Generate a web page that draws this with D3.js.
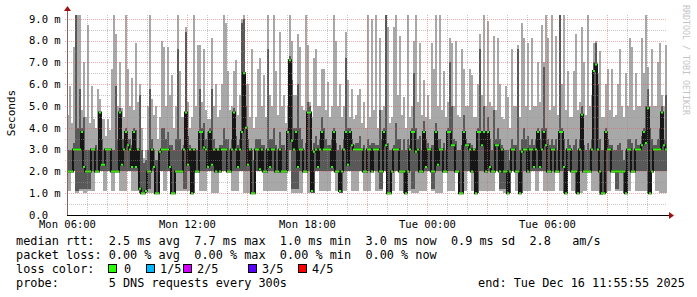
<!DOCTYPE html>
<html>
<head>
<meta charset="utf-8">
<script src="https://cdn.jsdelivr.net/npm/d3@7"></script>
<style>
  html, body { margin: 0; padding: 0; background: #fff; }
  svg { display: block; }
  text { font-family: "DejaVu Sans Mono", monospace; white-space: pre; }
</style>
</head>
<body>
<svg id="chart" width="697" height="297"></svg>
<script>
// time window of the graph, one sample every 6 minutes
var startTime = new Date(2025, 11, 15, 6, 0);
var endTime = new Date(2025, 11, 16, 12, 0);
var stepMinutes = 6;

// 5 pings per sample, sorted: min, 2nd, median, 4th, max (ms)
var pingMax = [
  4.6,5.9, 4.2,7.7, 9.2,9.2, 9.2,4.8, 7.0,4.5, 8.7,4.2, 5.9,4.4, 4.0,5.8, 5.3,4.4, 4.4,3.6,
  4.4,3.9, 6.7,9.2, 8.3,5.0, 7.0,4.9, 4.5,9.2, 6.7,5.0, 6.3,4.8, 7.9,5.2, 6.0,4.0, 2.6,3.0,
  5.0,9.2, 5.3,4.6, 5.0,3.5, 4.5,8.0, 7.7,5.0, 7.7,5.5, 6.4,4.0, 5.0,9.2, 6.6,4.5, 4.5,8.6,
  5.2,4.0, 4.5,9.2, 5.0,7.8, 7.8,5.2, 7.6,4.8, 4.4,4.4, 8.1,5.0, 6.0,4.5, 4.8,6.0, 9.2,8.8,
  6.6,4.8, 5.0,6.6, 7.1,4.6, 5.5,9.0, 9.2,6.0, 6.0,4.5, 7.6,4.0, 4.5,6.7, 7.2,5.0, 6.4,4.5,
  9.2,5.5, 5.0,9.2, 6.6,4.6, 8.4,5.0, 5.5,4.2, 5.0,9.2, 8.0,5.5, 5.5,8.3, 7.7,5.0, 4.8,9.2,
  7.8,5.2, 4.5,7.2, 7.6,5.0, 5.0,6.7, 6.7,4.8, 6.1,4.5, 5.0,9.2, 8.0,5.0, 6.0,4.5, 5.0,8.4,
  6.2,4.5, 5.8,4.4, 4.6,5.5, 5.8,4.2, 5.2,4.0, 9.2,4.5, 9.0,4.8, 9.2,4.0, 8.1,4.8, 5.0,9.2,
  8.6,4.2, 4.5,8.6, 9.2,5.5, 8.2,4.6, 5.4,4.0, 9.2,4.5, 5.0,8.0, 9.2,5.2, 7.9,4.6, 6.2,4.5,
  5.5,4.4, 7.9,6.7, 9.2,5.0, 9.2,4.8, 6.6,4.5, 5.2,8.1, 7.9,5.0, 8.0,4.6, 4.5,7.6, 6.7,5.0,
  5.0,6.7, 6.4,4.5, 4.5,6.0, 8.3,5.5, 9.2,5.0, 8.9,5.2, 5.0,8.2, 4.8,8.1, 6.0,4.5, 4.4,5.9,
  5.4,4.0, 7.6,5.0, 5.0,7.8, 4.5,8.8, 8.1,5.0, 7.9,4.8, 8.1,5.0, 5.0,7.0, 5.2,8.7, 7.0,9.2,
  8.1,4.8, 9.2,5.0, 8.2,4.6, 9.2,6.0, 9.2,4.8, 6.6,4.5, 4.5,6.6, 8.3,4.8, 5.2,8.6, 7.0,4.6,
  9.2,5.0, 5.5,7.9, 8.0,6.5, 7.5,4.5, 4.5,6.0, 6.7,4.8, 6.7,4.5, 4.6,6.0, 7.6,5.0, 4.5,6.5,
  5.0,8.1, 7.7,4.8, 6.5,5.0, 5.0,8.1, 6.5,9.2, 6.8,5.0, 7.6,5.0, 5.0,7.0, 7.9,5.5, 5.0,7.8
];
var pingHigh = [
  3.0,3.0, 3.0,3.3, 9.2,4.0, 5.8,4.0, 4.5,3.0, 3.0,3.0, 3.0,3.0, 3.2,3.0, 4.7,3.5, 3.0,3.0,
  3.0,3.0, 3.0,3.0, 5.9,3.5, 4.9,3.5, 3.5,4.0, 3.5,3.5, 3.2,4.0, 3.9,3.0, 5.5,3.0, 2.4,2.5,
  3.0,5.8, 3.5,3.0, 2.5,2.5, 3.0,4.0, 4.0,3.5, 3.8,3.2, 3.2,3.0, 3.5,7.6, 3.5,3.0, 3.2,8.4,
  3.6,3.2, 3.0,3.0, 3.0,3.0, 5.8,4.0, 4.2,3.5, 3.8,4.0, 5.8,3.5, 3.0,3.0, 3.2,3.2, 4.0,3.5,
  3.5,3.0, 3.5,4.9, 3.6,3.2, 3.5,8.8, 9.0,5.0, 3.5,3.0, 3.0,2.5, 3.5,3.5, 3.5,3.2, 3.2,3.0,
  7.6,3.5, 3.5,4.0, 3.2,3.0, 3.8,3.2, 3.2,3.0, 4.0,7.3, 6.2,4.0, 4.0,6.0, 4.0,3.5, 3.0,3.3,
  5.2,5.0, 3.0,3.3, 3.6,3.2, 3.5,4.5, 4.0,3.5, 3.2,3.2, 3.5,4.0, 3.3,3.0, 3.2,3.0, 3.5,7.2,
  4.0,4.0, 3.5,3.2, 3.3,3.3, 3.6,3.0, 3.2,3.0, 3.5,3.2, 3.3,3.3, 3.2,3.2, 4.8,3.5, 4.0,9.2,
  3.3,3.0, 3.0,3.2, 4.2,3.5, 3.5,3.0, 3.5,3.0, 3.5,3.2, 4.0,6.5, 4.0,3.5, 3.6,3.0, 4.3,3.5,
  3.3,3.0, 3.2,3.2, 4.2,3.5, 3.5,3.0, 3.3,3.0, 4.0,7.0, 5.0,3.5, 3.4,3.0, 3.0,3.2, 4.6,3.5,
  3.3,3.3, 3.2,3.0, 3.0,4.0, 7.6,3.5, 5.0,3.5, 4.5,3.5, 3.0,4.8, 3.5,4.0, 3.5,3.2, 3.0,3.0,
  3.0,2.5, 3.5,3.2, 3.2,7.6, 3.0,3.5, 4.0,3.5, 3.6,3.2, 3.5,3.2, 3.5,4.0, 3.5,4.0, 6.8,4.0,
  3.5,3.2, 3.5,3.2, 3.5,3.0, 9.2,4.0, 3.5,3.0, 3.5,3.2, 3.0,3.2, 3.5,3.0, 3.5,5.0, 3.2,3.0,
  3.3,3.0, 3.5,7.0, 7.9,6.0, 3.5,3.0, 3.0,4.0, 3.5,3.2, 3.2,3.0, 3.0,3.2, 3.3,3.0, 2.5,3.0,
  3.5,3.5, 3.3,3.0, 3.5,3.2, 3.2,3.6, 4.0,5.0, 5.8,4.0, 3.5,3.2, 3.2,3.5, 4.0,5.0, 3.5,5.5
];
var pingMedian = [
  2.0,2.0, 2.0,3.0, 3.0,3.0, 3.0,3.8, 2.2,2.0, 2.0,2.0, 3.0,3.0, 2.0,2.0, 4.7,2.3, 2.3,3.0,
  3.0,3.0, 2.0,2.0, 2.0,2.0, 4.7,2.3, 3.0,3.8, 3.2,3.0, 2.2,3.8, 2.2,3.0, 1.2,1.0, 1.0,1.1,
  2.0,2.0, 3.0,2.2, 1.0,1.0, 2.9,3.0, 3.0,3.0, 3.0,2.2, 1.0,1.0, 2.0,2.0, 2.0,2.0, 3.0,4.7,
  2.3,3.0, 1.0,3.0, 2.0,2.0, 3.8,3.8, 3.1,3.0, 2.2,3.8, 2.3,3.0, 2.0,3.0, 2.0,3.0, 3.0,3.0,
  2.0,2.0, 3.0,4.7, 3.0,2.2, 3.0,3.8, 6.5,4.0, 2.3,3.0, 1.0,1.0, 3.0,3.0, 2.1,3.0, 2.0,2.0,
  3.0,2.2, 3.0,3.0, 2.0,2.0, 3.0,2.0, 2.0,2.0, 3.8,7.1, 3.4,3.0, 3.8,2.2, 3.0,3.0, 2.0,2.0,
  4.7,4.7, 1.1,2.9, 3.0,2.2, 3.0,3.8, 3.0,3.0, 3.0,3.0, 2.2,3.8, 2.0,2.0, 1.1,2.0, 3.0,3.8,
  2.3,3.8, 3.2,3.0, 3.0,3.0, 3.0,3.0, 2.0,2.0, 3.0,3.0, 2.0,3.0, 3.0,3.0, 2.0,2.0, 3.8,3.2,
  1.0,1.0, 2.0,3.0, 3.0,3.0, 2.0,2.0, 2.0,1.0, 2.0,3.0, 3.8,3.8, 2.9,3.0, 2.0,2.0, 3.8,2.2,
  3.0,3.0, 2.0,2.0, 3.8,2.3, 3.0,3.0, 2.0,2.0, 3.8,3.8, 3.2,3.2, 2.0,2.0, 1.0,1.0, 3.8,3.2,
  3.2,3.0, 2.0,3.0, 1.0,3.8, 3.8,3.2, 3.8,2.0, 3.8,2.2, 2.0,2.0, 3.2,3.2, 2.0,3.0, 2.0,2.0,
  1.0,2.0, 3.0,3.0, 2.0,2.0, 1.0,2.9, 3.0,3.0, 2.0,3.0, 3.0,2.2, 3.0,3.8, 2.2,3.0, 3.8,3.2,
  2.0,2.0, 3.0,3.0, 2.0,2.0, 3.8,3.8, 2.2,1.0, 3.0,3.0, 2.0,2.0, 2.0,1.0, 3.0,4.6, 2.0,2.0,
  2.0,2.0, 3.0,6.6, 6.9,3.0, 2.0,1.0, 1.0,3.8, 3.0,3.0, 2.0,2.0, 2.0,2.0, 2.0,2.0, 2.0,1.0,
  3.0,3.0, 2.0,2.0, 3.0,3.0, 3.0,3.2, 3.8,3.3, 4.9,1.0, 2.0,3.0, 3.0,3.0, 3.0,4.7, 3.2,3.0
];
var pingLow = [
  2.0,2.0, 2.0,2.0, 1.1,1.1, 1.2,1.2, 1.2,1.2, 1.2,1.2, 2.0,2.0, 2.0,2.0, 2.0,2.0, 2.0,2.0,
  2.0,2.0, 2.0,2.0, 2.0,2.0, 2.0,2.0, 2.0,2.0, 2.0,2.0, 2.0,2.0, 2.0,2.0, 1.0,1.0, 1.0,1.0,
  1.2,1.2, 2.0,2.0, 1.0,1.0, 2.0,2.0, 2.0,2.0, 2.0,2.0, 1.0,1.0, 2.0,2.0, 2.0,2.0, 1.2,1.2,
  2.0,2.0, 1.0,1.0, 2.0,2.0, 2.0,2.0, 2.0,2.0, 2.0,2.0, 2.0,2.0, 2.0,2.0, 2.0,2.0, 2.0,2.0,
  2.0,2.0, 2.0,2.0, 2.0,2.0, 2.0,2.0, 2.0,2.0, 2.0,2.0, 1.0,1.0, 2.0,2.0, 2.0,2.0, 2.0,2.0,
  2.0,2.0, 2.0,2.0, 2.0,2.0, 2.0,2.0, 2.0,2.0, 2.0,3.0, 1.2,1.2, 1.2,1.2, 2.0,2.0, 2.0,2.0,
  2.0,2.0, 1.0,1.0, 2.0,2.0, 2.0,2.0, 2.0,2.0, 2.0,2.0, 2.0,2.0, 2.0,2.0, 1.0,1.0, 2.0,2.0,
  2.0,2.0, 2.0,2.0, 2.0,2.0, 2.0,2.0, 2.0,2.0, 2.0,2.0, 2.0,2.0, 2.0,2.0, 1.2,1.2, 2.0,2.0,
  1.0,1.0, 2.0,2.0, 2.0,2.0, 2.0,2.0, 1.0,1.0, 2.0,2.0, 1.2,1.2, 2.0,2.0, 2.0,2.0, 2.0,2.0,
  2.0,2.0, 1.2,1.2, 2.0,2.0, 2.0,2.0, 2.0,2.0, 2.0,2.0, 2.0,2.0, 2.0,2.0, 1.0,1.0, 2.0,2.0,
  2.0,2.0, 2.0,2.0, 1.0,1.0, 2.0,2.0, 2.0,2.0, 2.0,2.0, 2.0,2.0, 2.0,2.0, 1.2,1.2, 1.2,1.2,
  1.0,1.0, 2.0,2.0, 2.0,2.0, 1.0,1.0, 2.0,2.0, 2.0,2.0, 2.0,2.0, 2.0,2.0, 2.0,2.0, 2.0,2.0,
  2.0,2.0, 2.0,2.0, 2.0,2.0, 2.0,2.0, 1.0,1.0, 2.0,2.0, 2.0,2.0, 1.0,1.0, 2.0,2.0, 2.0,2.0,
  2.0,2.0, 2.0,2.0, 2.0,2.0, 1.0,1.0, 1.0,1.0, 2.0,2.0, 2.0,2.0, 1.2,1.2, 2.0,2.0, 1.0,1.0,
  2.0,2.0, 2.0,2.0, 2.0,2.0, 2.0,2.0, 2.0,2.0, 1.0,1.0, 2.0,2.0, 2.0,2.0, 2.0,2.0, 2.0,2.0
];
var pingMin = [
  1.1,1.1, 2.0,2.0, 1.0,1.0, 1.1,1.1, 1.0,1.0, 1.1,1.1, 1.1,1.1, 2.0,2.0, 2.0,2.0, 1.1,1.1,
  2.0,2.0, 1.1,1.1, 2.0,2.0, 1.1,1.1, 1.1,1.1, 2.0,2.0, 1.1,1.1, 1.1,1.1, 1.0,1.0, 1.0,1.0,
  1.0,1.0, 1.0,1.0, 1.0,1.0, 2.0,2.0, 1.1,1.1, 2.0,2.0, 1.0,1.0, 1.1,1.1, 1.1,1.1, 1.1,1.1,
  1.1,1.1, 1.0,1.0, 2.0,2.0, 1.1,1.1, 1.1,1.1, 2.0,2.0, 1.0,1.0, 1.0,1.0, 2.0,2.0, 2.0,2.0,
  2.0,2.0, 1.1,1.1, 1.1,1.1, 2.0,2.0, 1.0,1.0, 1.0,1.0, 1.0,1.0, 2.0,2.0, 2.0,2.0, 1.1,1.1,
  1.1,1.1, 1.1,1.1, 1.1,1.1, 1.1,1.1, 1.1,1.1, 2.0,2.0, 1.0,1.0, 1.0,1.0, 1.0,1.0, 2.0,2.0,
  1.0,1.0, 1.0,1.0, 2.0,2.0, 1.1,1.1, 1.1,1.1, 1.1,1.1, 2.0,2.0, 1.1,1.1, 1.0,1.0, 1.1,1.1,
  2.0,2.0, 1.1,1.1, 1.1,1.1, 2.0,2.0, 1.1,1.1, 1.1,1.1, 2.0,2.0, 1.1,1.1, 1.1,1.1, 2.0,2.0,
  1.0,1.0, 1.1,1.1, 2.0,2.0, 1.1,1.1, 1.0,1.0, 1.1,1.1, 1.0,1.0, 1.0,1.0, 1.1,1.1, 1.1,1.1,
  2.0,2.0, 1.1,1.1, 1.0,1.0, 1.0,1.0, 2.0,2.0, 1.1,1.1, 1.1,1.1, 2.0,2.0, 1.0,1.0, 1.1,1.1,
  2.0,2.0, 1.1,1.1, 1.0,1.0, 1.1,1.1, 1.1,1.1, 1.1,1.1, 1.1,1.1, 2.0,2.0, 1.1,1.1, 1.0,1.0,
  1.0,1.0, 2.0,2.0, 1.1,1.1, 1.0,1.0, 1.1,1.1, 1.1,1.1, 2.0,2.0, 1.1,1.1, 2.0,2.0, 1.1,1.1,
  1.1,1.1, 1.1,1.1, 2.0,2.0, 1.1,1.1, 1.0,1.0, 2.0,2.0, 1.1,1.1, 1.0,1.0, 1.0,1.0, 1.1,1.1,
  2.0,2.0, 1.1,1.1, 1.1,1.1, 0.9,0.9, 1.0,1.0, 1.1,1.1, 2.0,2.0, 1.1,1.1, 1.1,1.1, 1.0,1.0,
  1.1,1.1, 2.0,2.0, 1.1,1.1, 1.1,1.1, 1.1,1.1, 1.0,1.0, 2.0,2.0, 1.1,1.1, 1.0,1.0, 1.0,1.0
];

var yTicks = [0, 1, 2, 3, 4, 5, 6, 7, 8, 9];
var yLabel = 'Seconds';
var watermark = 'RRDTOOL / TOBI OETIKER';

// legend rows
var rttStats = ['2.5 ms avg', '7.7 ms max', '1.0 ms min', '3.0 ms now', '0.9 ms sd', '2.8   am/s'];
var lossStats = ['0.00 % avg', '0.00 % max', '0.00 % min', '0.00 % now'];
var lossLabels = ['0', '1/5', '2/5', '3/5', '4/5'];
var lossColors = ['#26ff00', '#00b8ff', '#d400ff', '#5a00ff', '#ff0000'];
var probeText = '5 DNS requests every 300s';
var endText = 'end: Tue Dec 16 11:55:55 2025';

var svg = d3.select('#chart');
// note: "top" would clash with window.top
var plotLeft = 67, plotRight = 667, plotTop = 15, plotBottom = 215;

var x = d3.scaleTime().domain([startTime, endTime]).range([plotLeft, plotRight]);
var y = d3.scaleLinear().domain([0, 9.17]).range([plotBottom, plotTop]);

var samples = pingMedian.map(function(m, i) {
  var t0 = d3.timeMinute.offset(startTime, i * stepMinutes);
  return {
    t0: t0,
    t1: d3.timeMinute.offset(t0, stepMinutes),
    max: pingMax[i], high: pingHigh[i], med: m, low: pingLow[i], min: pingMin[i]
  };
});

svg.append('defs').append('clipPath').attr('id', 'plot-clip')
  .append('rect').attr('x', plotLeft).attr('y', plotTop)
  .attr('width', plotRight - plotLeft).attr('height', plotBottom - plotTop);

var plot = svg.append('g').attr('clip-path', 'url(#plot-clip)');

// smoke: outer pings light, inner pings dark
plot.selectAll('.smoke-outer').data(samples).enter().append('rect')
  .attr('class', 'smoke-outer')
  .attr('x', d => x(d.t0))
  .attr('width', d => x(d.t1) - x(d.t0))
  .attr('y', d => y(d.max))
  .attr('height', d => y(d.min) - y(d.max))
  .attr('fill', '#a8a8a8')
  .attr('shape-rendering', 'crispEdges');

plot.selectAll('.smoke-inner').data(samples).enter().append('rect')
  .attr('class', 'smoke-inner')
  .attr('x', d => x(d.t0))
  .attr('width', d => x(d.t1) - x(d.t0))
  .attr('y', d => y(d.high))
  .attr('height', d => y(d.low) - y(d.high))
  .attr('fill', '#595959')
  .attr('shape-rendering', 'crispEdges');

// median: dark steps, coloured by loss on the flat parts
var stepPts = samples.map(d => [x(d.t0), y(d.med)]);
stepPts.push([x(samples[samples.length - 1].t1), y(samples[samples.length - 1].med)]);
plot.append('path')
  .attr('d', d3.line().curve(d3.curveStepAfter)(stepPts))
  .attr('fill', 'none')
  .attr('stroke', '#161616')
  .attr('stroke-width', 2);

plot.selectAll('.median').data(samples).enter().append('line')
  .attr('class', 'median')
  .attr('x1', d => x(d.t0))
  .attr('x2', d => x(d.t1))
  .attr('y1', d => y(d.med))
  .attr('y2', d => y(d.med))
  .attr('stroke', lossColors[0])
  .attr('stroke-width', 2);

// grid, drawn over the graph like rrdtool does
var grid = svg.append('g').attr('shape-rendering', 'crispEdges');
var minorY = d3.range(0.5, 9.01, 1);
var hours = d3.timeHour.every(1).range(d3.timeHour.offset(startTime, 1), endTime);

grid.selectAll('.gy').data(minorY).enter().append('line')
  .attr('x1', plotLeft - 2).attr('x2', plotRight)
  .attr('y1', d => Math.round(y(d)) + 0.5).attr('y2', d => Math.round(y(d)) + 0.5)
  .attr('stroke', 'rgba(143,143,143,0.5)').attr('stroke-dasharray', '1,1');

grid.selectAll('.gx').data(hours.filter(d => d.getHours() % 3 !== 0)).enter().append('line')
  .attr('y1', plotTop).attr('y2', plotBottom + 2)
  .attr('x1', d => Math.round(x(d)) + 0.5).attr('x2', d => Math.round(x(d)) + 0.5)
  .attr('stroke', 'rgba(143,143,143,0.5)').attr('stroke-dasharray', '1,1');

grid.selectAll('.my').data(yTicks.slice(1)).enter().append('line')
  .attr('x1', plotLeft - 2).attr('x2', plotRight)
  .attr('y1', d => Math.round(y(d)) + 0.5).attr('y2', d => Math.round(y(d)) + 0.5)
  .attr('stroke', 'rgba(222,93,93,0.5)').attr('stroke-dasharray', '1,1');

grid.selectAll('.mx').data(hours.filter(d => d.getHours() % 3 === 0)).enter().append('line')
  .attr('y1', plotTop).attr('y2', plotBottom + 2)
  .attr('x1', d => Math.round(x(d)) + 0.5).attr('x2', d => Math.round(x(d)) + 0.5)
  .attr('stroke', 'rgba(222,93,93,0.5)').attr('stroke-dasharray', '1,1');

// axes
var yAxis = svg.append('g').attr('transform', `translate(${plotLeft},0)`)
  .call(d3.axisLeft(y).tickValues(yTicks).tickSize(0)
    .tickFormat(d => d === 0 ? '0.0' : d.toFixed(1) + ' m'));
yAxis.select('.domain').remove();
yAxis.selectAll('text')
  .attr('text-anchor', 'start').attr('x', -38)
  .attr('font-family', '"DejaVu Sans Mono", monospace').attr('font-size', 10.5)
  .attr('fill', '#000');

var xAxis = svg.append('g').attr('transform', `translate(0,${plotBottom})`)
  .call(d3.axisBottom(x).tickValues(d3.timeHour.every(6).range(startTime, endTime))
    .tickSize(0).tickPadding(6).tickFormat(d3.timeFormat('%a %H:%M')));
xAxis.select('.domain').remove();
xAxis.selectAll('text')
  .attr('font-family', '"DejaVu Sans Mono", monospace').attr('font-size', 10.5)
  .attr('fill', '#000');

svg.append('line')
  .attr('x1', plotLeft).attr('x2', plotRight + 4).attr('y1', plotBottom + 0.5).attr('y2', plotBottom + 0.5)
  .attr('stroke', '#000').attr('shape-rendering', 'crispEdges');
svg.append('line')
  .attr('x1', plotLeft + 0.5).attr('x2', plotLeft + 0.5).attr('y1', plotBottom).attr('y2', plotTop - 5)
  .attr('stroke', '#8a6262').attr('shape-rendering', 'crispEdges');
svg.append('path')
  .attr('d', `M${plotRight + 2},${plotBottom - 3} L${plotRight + 7},${plotBottom + 0.5} L${plotRight + 2},${plotBottom + 4} Z`)
  .attr('fill', '#a01010');
svg.append('path')
  .attr('d', `M${plotLeft - 3},${plotTop - 4} L${plotLeft + 0.5},${plotTop - 9} L${plotLeft + 4},${plotTop - 4} Z`)
  .attr('fill', '#a01010');

svg.append('text')
  .attr('transform', 'translate(15,113) rotate(-90)')
  .attr('text-anchor', 'middle')
  .attr('font-size', 11)
  .text(yLabel);

svg.append('text')
  .attr('transform', 'translate(683,5) rotate(90)')
  .attr('font-size', 8.3)
  .attr('fill', '#c4c4c4')
  .text(watermark);

// legend
var legend = svg.append('g').attr('font-size', 11.85).attr('fill', '#000');
legend.append('text').attr('x', 16).attr('y', 245)
  .text('median rtt:  ' + rttStats.join('  '));
legend.append('text').attr('x', 16).attr('y', 259)
  .text('packet loss: ' + lossStats.join('  '));
legend.append('text').attr('x', 16).attr('y', 273).text('loss color:');
legend.append('text').attr('x', 16).attr('y', 287)
  .text('probe:       ' + probeText);
legend.append('text').attr('x', 478).attr('y', 287).text(endText);

var swatchX = [108, 146, 183, 248, 298];
var swatchLabelX = [124, 160, 197, 262, 312];
var swatch = legend.selectAll('.swatch').data(lossLabels).enter().append('g');
swatch.append('rect')
  .attr('x', (d, i) => swatchX[i] + 0.5).attr('y', 264.5).attr('width', 8).attr('height', 8)
  .attr('fill', (d, i) => lossColors[i])
  .attr('stroke', '#000').attr('shape-rendering', 'crispEdges');
swatch.append('text')
  .attr('x', (d, i) => swatchLabelX[i]).attr('y', 273)
  .text(d => d);
</script>
</body>
</html>
